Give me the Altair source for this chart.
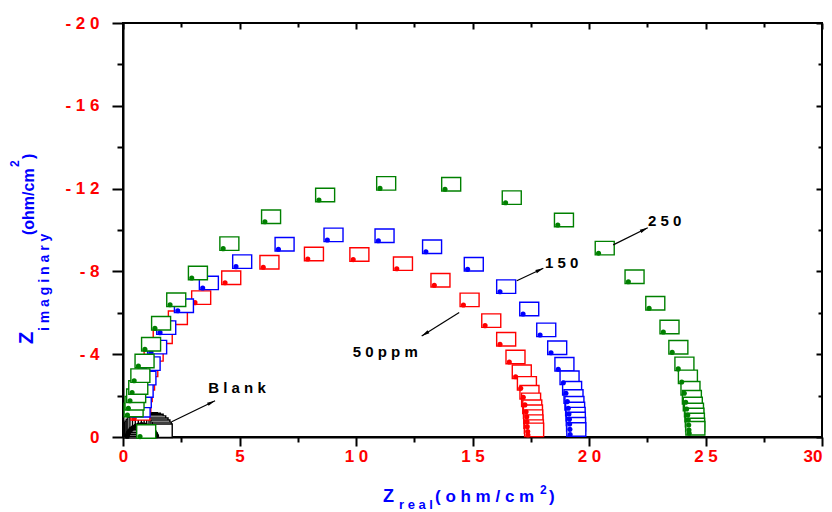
import math
import altair as alt
import pandas as pd

# ---------------- data ----------------
series_names = ["Blank", "50ppm", "150", "250"]
series_colors = ["#000000", "#ff0000", "#0000ff", "#008000"]

blank_zr = [0.18, 0.20, 0.23, 0.28, 0.35, 0.44, 0.55, 0.67, 0.80, 0.93, 1.05, 1.16, 1.26, 1.34, 1.40, 1.44]
blank_zi = [-0.04, -0.12, -0.20, -0.29, -0.38, -0.46, -0.53, -0.58, -0.60, -0.58, -0.53, -0.45, -0.35, -0.25, -0.15, -0.06]

ppm50_zr = [0.48, 0.52, 0.58, 0.68, 0.82, 1.05, 1.44, 2.09, 3.09, 4.38, 6.02, 7.93, 9.88, 11.75, 13.36, 14.61,
            15.54, 16.18, 16.58, 16.85, 17.07, 17.18, 17.25, 17.30, 17.33, 17.34, 17.35, 17.37, 17.38]
ppm50_zi = [-0.90, -1.30, -1.80, -2.35, -3.00, -3.75, -4.60, -5.52, -6.49, -7.45, -8.20, -8.60, -8.57, -8.13, -7.33, -6.38,
            -5.38, -4.48, -3.62, -2.91, -2.35, -1.92, -1.55, -1.22, -0.98, -0.74, -0.50, -0.26, -0.10]

ppm150_zr = [0.49, 0.54, 0.62, 0.74, 0.92, 1.20, 1.59, 2.35, 3.42, 4.85, 6.67, 8.77, 10.96, 13.00, 14.79, 16.18,
             17.17, 17.90, 18.37, 18.68, 18.90, 19.01, 19.07, 19.11, 19.14, 19.16, 19.17, 19.18, 19.19]
ppm150_zi = [-1.05, -1.50, -2.00, -2.60, -3.30, -4.10, -5.04, -6.10, -7.20, -8.23, -9.07, -9.52, -9.48, -8.95, -8.10, -7.02,
             -5.94, -4.93, -4.07, -3.27, -2.62, -2.11, -1.71, -1.39, -1.11, -0.86, -0.63, -0.37, -0.12]

ppm250_zr = [0.73, 0.19, 0.23, 0.30, 0.39, 0.48, 0.66, 0.94, 1.37, 2.02, 2.95, 4.30, 6.09, 8.41, 11.03, 13.82, 16.42,
             18.66, 20.41, 21.69, 22.58, 23.19, 23.57, 23.83, 23.98, 24.09, 24.15, 24.19, 24.24, 24.26, 24.28, 24.29, 24.30]
ppm250_zi = [-0.02, -1.06, -1.39, -1.75, -2.15, -2.72, -3.43, -4.24, -5.25, -6.39, -7.68, -9.10, -10.40, -11.45, -12.01,
             -11.97, -11.32, -10.24, -8.88, -7.50, -6.22, -5.07, -4.09, -3.29, -2.66, -2.11, -1.68, -1.35, -1.06, -0.82,
             -0.58, -0.34, -0.18]

x_major = [0, 5, 10, 15, 20, 25, 30]
x_minor = [2.5, 7.5, 12.5, 17.5, 22.5, 27.5]
y_major = [0, -4, -8, -12, -16, -20]
y_minor = [-2, -6, -10, -14, -18]

ann_text = ["Blank", "50ppm", "150", "250"]
ann_tail_zr = [2.09, 14.43, 16.90, 21.04]
ann_tail_zi = [-0.74, -6.02, -7.55, -9.28]
ann_head_zr = [3.95, 12.82, 18.04, 22.52]
ann_head_zi = [-1.75, -4.88, -8.15, -10.11]
ann_label_zr = [3.66, 9.86, 18.11, 22.53]
ann_label_zi = [-2.37, -4.10, -8.39, -10.43]

# ---------------- build tables ----------------
W, H = 699, 414
FONT = "Liberation Sans, Arial, sans-serif"

rows = []
for name, xs, ys in zip(series_names,
                        [blank_zr, ppm50_zr, ppm150_zr, ppm250_zr],
                        [blank_zi, ppm50_zi, ppm150_zi, ppm250_zi]):
    for i, (a, b) in enumerate(zip(xs, ys)):
        rows.append({"series": name, "zr": a, "zi": b, "i": i})
df = pd.DataFrame(rows)

ann_rows = []
for t, x0, y0, x1, y1, lx, ly in zip(ann_text, ann_tail_zr, ann_tail_zi, ann_head_zr, ann_head_zi,
                                     ann_label_zr, ann_label_zi):
    dx = (x1 - x0) * W / 30.0
    dy = (y1 - y0) * H / 20.0
    ang = math.degrees(math.atan2(dx, -dy)) % 360
    ann_rows.append({"label": " ".join(list(t)), "x0": x0, "y0": y0, "x1": x1, "y1": y1,
                     "lx": lx, "ly": ly, "ang": ang})
ann = pd.DataFrame(ann_rows)

xscale = alt.Scale(domain=[0, 30], nice=False, zero=False)
yscale = alt.Scale(domain=[-20, 0], nice=False, zero=False, reverse=True)
cscale = alt.Scale(domain=series_names, range=series_colors)

RECT_PATH = "M-0.35,0.18 L1.65,0.18 L1.65,-1.24 L-0.35,-1.24 Z"
ARROW_PATH = "M0,0 L0.45,2 L-0.45,2 Z"

layers = []

# ---------- axes ----------
spaced = "join(split(toString(datum.value), ''), ' ')"
lab = dict(labelFont=FONT, labelFontSize=17, labelFontWeight="bold", labelColor="#ff0000",
           labelFlush=False, labelOverlap=False)


def axis_layer(xaxis, yaxis):
    return alt.Chart(df).mark_point(opacity=0).encode(
        x=alt.X("zr:Q", scale=xscale, axis=xaxis),
        y=alt.Y("zi:Q", scale=yscale, axis=yaxis))


layers.append(axis_layer(
    alt.Axis(orient="bottom", values=x_major, tickSize=9, tickWidth=2, tickColor="black",
             domainColor="black", domainWidth=2, grid=False, title=None, labelPadding=2,
             labelExpr="datum.value == 30 ? '30' : " + spaced,
             labelAlign=alt.condition("datum.value == 30", alt.value("right"), alt.value("center")),
             **lab),
    alt.Axis(orient="left", values=y_major, tickSize=11, tickWidth=2, tickColor="black",
             domainColor="black", domainWidth=2, grid=False, title=None, labelPadding=13,
             labelExpr=spaced, **lab)))
layers.append(axis_layer(
    alt.Axis(orient="bottom", values=x_minor, tickSize=5, tickWidth=2, tickColor="black",
             domain=False, labels=False, grid=False, title=None),
    alt.Axis(orient="left", values=y_minor, tickSize=6, tickWidth=2, tickColor="black",
             domain=False, labels=False, grid=False, title=None)))
layers.append(axis_layer(
    alt.Axis(orient="top", values=x_major, tickSize=6, offset=-6, tickWidth=2, tickColor="black",
             domain=False, labels=False, grid=False, title=None),
    alt.Axis(orient="right", values=y_major, tickSize=6, offset=-6, tickWidth=2, tickColor="black",
             domain=False, labels=False, grid=False, title=None)))
layers.append(axis_layer(
    alt.Axis(orient="top", values=x_minor, tickSize=4, offset=-4, tickWidth=2, tickColor="black",
             domain=False, labels=False, grid=False, title=None),
    alt.Axis(orient="right", values=y_minor, tickSize=4, offset=-4, tickWidth=2, tickColor="black",
             domain=False, labels=False, grid=False, title=None)))

# ---------- data markers ----------
base = alt.Chart(df).encode(
    x=alt.X("zr:Q", scale=xscale, axis=None),
    y=alt.Y("zi:Q", scale=yscale, axis=None))

for name in series_names:
    sub = base.transform_filter(alt.datum.series == name)
    layers.append(sub.mark_point(shape=RECT_PATH, size=361, filled=True, fill="white",
                                 strokeWidth=1.4, opacity=1, fillOpacity=1, strokeOpacity=1).encode(
        stroke=alt.Stroke("series:N", scale=cscale, legend=None)))
    layers.append(sub.mark_point(shape="circle", size=26, filled=True, opacity=1).encode(
        fill=alt.Fill("series:N", scale=cscale, legend=None)))

# ---------- annotations ----------
abase = alt.Chart(ann)
layers.append(abase.mark_rule(color="black", strokeWidth=1.2).encode(
    x=alt.X("x0:Q", scale=xscale, axis=None), y=alt.Y("y0:Q", scale=yscale, axis=None),
    x2="x1:Q", y2="y1:Q"))
layers.append(abase.mark_point(shape=ARROW_PATH, size=64, filled=True, opacity=1, color="black").encode(
    x=alt.X("x1:Q", scale=xscale, axis=None), y=alt.Y("y1:Q", scale=yscale, axis=None),
    angle=alt.Angle("ang:Q", scale=None)))
layers.append(abase.mark_text(align="left", baseline="middle", font=FONT, fontSize=15,
                              fontWeight="bold", color="black").encode(
    x=alt.X("lx:Q", scale=xscale, axis=None), y=alt.Y("ly:Q", scale=yscale, axis=None),
    text="label:N"))

# ---------- axis titles (rich text pieces) ----------
one = pd.DataFrame({"k": [0]})
title_pieces = [
    # text, x, y, size, angle
    ("Z", -96, 321, 20, 270),
    ("i m a g i n a r y", -78, 308, 14, 270),
    ("(ohm/cm", -94, 212, 16, 270),
    ("2", -108, 144, 12, 270),
    (")", -94, 136, 16, 270),
    ("Z", 260, 474, 18, 0),
    ("r e a l", 276, 482, 13, 0),
    ("( o h m / c m", 312, 474, 17, 0),
    ("2", 417, 467, 12, 0),
    (")", 426, 474, 17, 0),
]
for txt, px, py, fs, ang in title_pieces:
    layers.append(alt.Chart(one).mark_text(text=txt, align="left", baseline="middle", font=FONT,
                                           fontSize=fs, fontWeight="bold", color="#0000ff",
                                           angle=ang).encode(x=alt.value(px), y=alt.value(py)))

chart = alt.layer(*layers).resolve_axis(x="independent", y="independent").properties(
    width=W, height=H,
    autosize=alt.AutoSizeParams(type="none"),
    padding={"left": 115, "top": 15, "right": 2, "bottom": 75},
    background="white",
).configure_view(stroke="black", strokeWidth=2)

chart.save("out.html", embed_options={"renderer": "svg", "actions": False})
